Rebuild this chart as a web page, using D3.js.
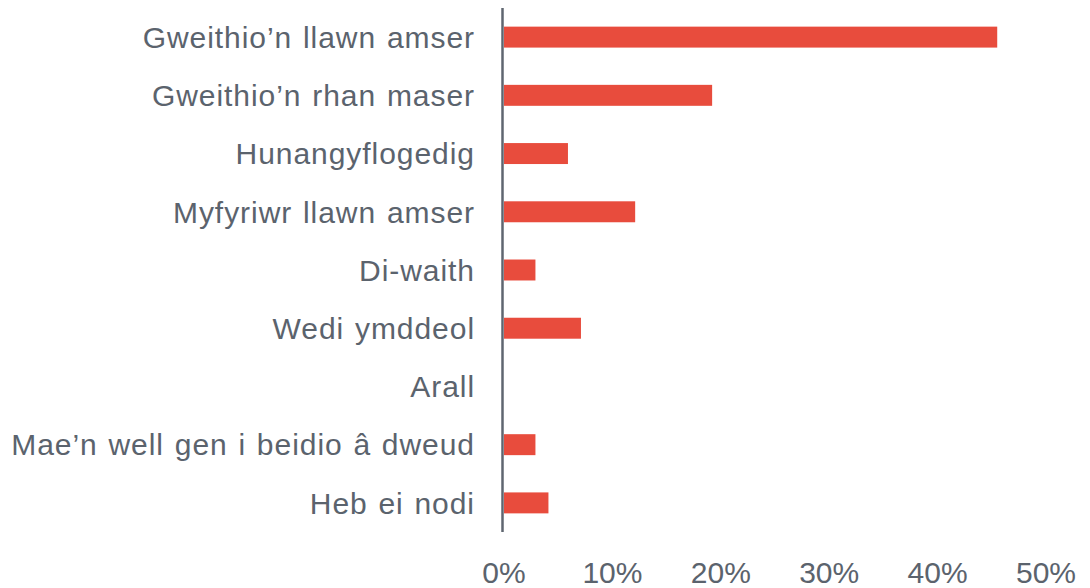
<!DOCTYPE html>
<html><head><meta charset="utf-8">
<script src="https://cdn.jsdelivr.net/npm/d3@7"></script>
<style>body{margin:0;background:#fff}svg{display:block}</style>
</head><body>
<svg id="c" width="1090" height="588"></svg>
<script>
const categories = ["Gweithio’n llawn amser","Gweithio’n rhan maser","Hunangyflogedig","Myfyriwr llawn amser","Di-waith","Wedi ymddeol","Arall","Mae’n well gen i beidio â dweud","Heb ei nodi"];
const values = [45.5, 19.2, 5.9, 12.1, 2.9, 7.1, 0, 2.9, 4.1];
const ticks = [0,10,20,30,40,50];

const svg = d3.select("#c");
const x = d3.scaleLinear().domain([0,50]).range([504,1046]);
const y = d3.scaleBand().domain(categories).range([8,532]).paddingInner(0.64).paddingOuter(0.32);
const textCol = "#5b636d";
const font = "Liberation Sans, Arial, sans-serif";

svg.selectAll("rect.bar").data(values).join("rect")
  .attr("x", x(0)).attr("y",(d,i)=>y(categories[i]))
  .attr("width", d=>x(d)-x(0)).attr("height", y.bandwidth())
  .attr("fill","#e84c3d");

svg.append("line").attr("x1",x(0)-1.5).attr("x2",x(0)-1.5).attr("y1",8).attr("y2",532)
  .attr("stroke","#5f6670").attr("stroke-width",2.5);

svg.selectAll("text.cat").data(categories).join("text")
  .attr("x",475).attr("y",d=>y(d)+y.bandwidth()/2).attr("dy","0.36em")
  .attr("text-anchor","end").attr("fill",textCol)
  .attr("font-family",font).attr("font-size",30)
  .attr("letter-spacing",0.95).attr("word-spacing",1.5)
  .text(d=>d);

svg.selectAll("text.tick").data(ticks).join("text")
  .attr("x",d=>x(d)).attr("y",583).attr("text-anchor","middle").attr("fill",textCol)
  .attr("font-family",font).attr("font-size",30)
  .text(d=>d+"%");
</script>
</body></html>
